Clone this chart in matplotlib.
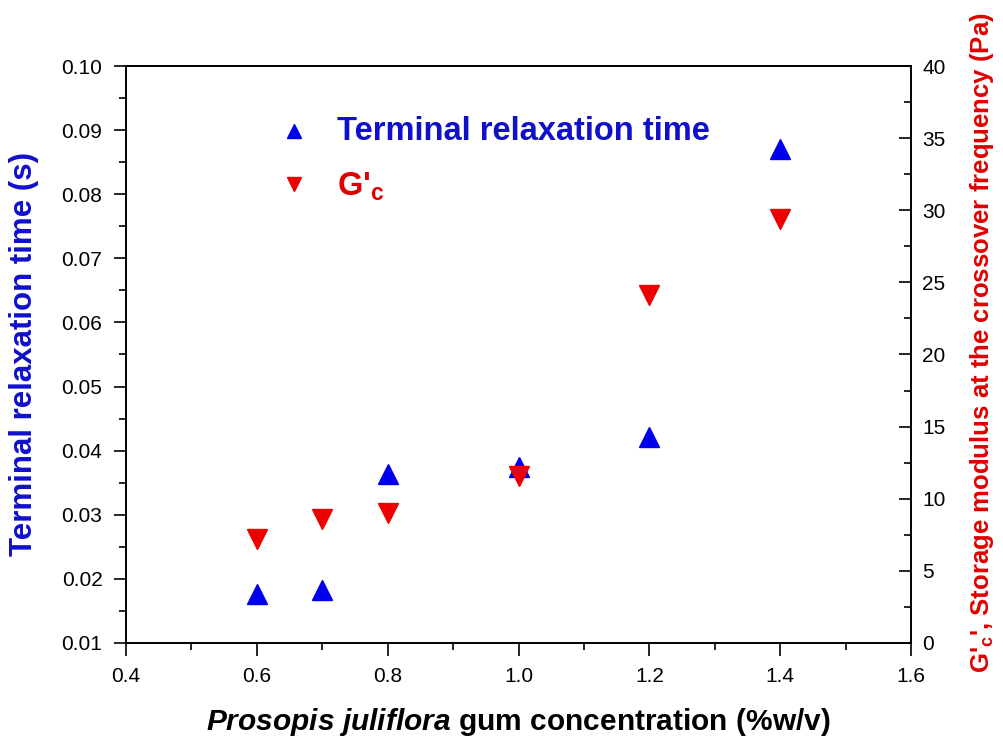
import matplotlib
matplotlib.use("Agg")
import matplotlib.pyplot as plt
from matplotlib.ticker import MultipleLocator, FormatStrFormatter

concentration = [0.6, 0.7, 0.8, 1.0, 1.2, 1.4]
relax_time = [0.0177, 0.0183, 0.0363, 0.0374, 0.0421, 0.0871]
g_c = [7.2, 8.6, 9.0, 11.6, 24.1, 29.4]

plt.rcParams['font.family'] = ['Liberation Sans', 'DejaVu Sans']
plt.rcParams['mathtext.fontset'] = 'custom'
plt.rcParams['mathtext.rm'] = 'Liberation Sans'
plt.rcParams['mathtext.it'] = 'Liberation Sans:italic'
plt.rcParams['mathtext.bf'] = 'Liberation Sans:bold'
plt.rcParams['mathtext.bfit'] = 'Liberation Sans:bold:italic'

BLUE = '#0000ee'
RED = '#ee0000'
TXT_BLUE = '#1010cc'
TXT_RED = '#e00000'

fig = plt.figure(figsize=(10.04, 7.4), dpi=100)
ax = fig.add_axes([0.1255, 0.1311, 0.7819, 0.7797])
ax2 = ax.twinx()

ax.plot(concentration, relax_time, linestyle='none', marker='^', ms=14,
        color=BLUE, mec=BLUE)
ax2.plot(concentration, g_c, linestyle='none', marker='v', ms=14,
         color=RED, mec=RED)

ax.set_xlim(0.4, 1.6)
ax.set_ylim(0.01, 0.10)
ax2.set_ylim(0, 40)

ax.xaxis.set_major_locator(MultipleLocator(0.2))
ax.xaxis.set_minor_locator(MultipleLocator(0.1))
ax.xaxis.set_major_formatter(FormatStrFormatter('%.1f'))
ax.yaxis.set_major_locator(MultipleLocator(0.01))
ax.yaxis.set_minor_locator(MultipleLocator(0.005))
ax.yaxis.set_major_formatter(FormatStrFormatter('%.2f'))
ax2.yaxis.set_major_locator(MultipleLocator(5))
ax2.yaxis.set_minor_locator(MultipleLocator(2.5))

ax.tick_params(which='major', direction='out', length=9, width=1.2,
               labelsize=15, pad=8)
ax.tick_params(which='minor', direction='out', length=5, width=1.2)
ax.tick_params(axis='x', top=False, which='both')
ax.tick_params(axis='y', right=False, which='both')
ax2.tick_params(which='major', direction='in', length=9, width=1.2,
                labelsize=15, pad=8)
ax2.tick_params(which='minor', direction='in', length=5, width=1.2)
for a in (ax, ax2):
    for sp in a.spines.values():
        sp.set_linewidth(1.2)

ax.set_ylabel('Terminal relaxation time (s)', color=TXT_BLUE, fontsize=22.5,
              fontweight='bold')
ax.yaxis.set_label_coords(-0.111, 0.5)
ax2.set_ylabel("G'$_\\mathbf{c}$', Storage modulus at the crossover frequency (Pa)",
               color=TXT_RED, fontsize=18.5, fontweight='bold')
ax2.yaxis.set_label_coords(1.073, 0.52)
ax.set_xlabel(r"$\mathbfit{Prosopis\ juliflora}$ gum concentration (%w/v)",
              fontsize=21.5, fontweight='bold')
ax.xaxis.set_label_coords(0.5, -0.109)

# legend drawn as text and markers
ax.plot([0.657], [0.0898], linestyle='none', marker='^', ms=10, color=BLUE)
ax.text(0.722, 0.0898, 'Terminal relaxation time', color=TXT_BLUE, fontsize=23.5,
        fontweight='bold', va='center', ha='left')
ax.plot([0.657], [0.0816], linestyle='none', marker='v', ms=10, color=RED)
ax.text(0.722, 0.0812, "G'$_\\mathbf{c}$", color=TXT_RED, fontsize=23.5,
        fontweight='bold', va='center', ha='left')

fig.savefig('out.png', dpi=100)
